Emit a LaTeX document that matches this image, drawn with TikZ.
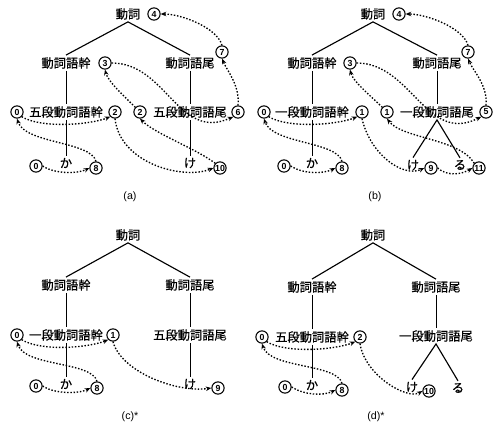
\documentclass[tikz,border=0pt]{standalone}
\usepackage{fontspec}
\newfontfamily\jpfont[FakeBold=0.6]{Noto Sans CJK JP}
\newfontfamily\labfont{Liberation Sans}
\usetikzlibrary{arrows.meta}

\tikzset{
  jp/.style={font=\jpfont\fontsize{9.2}{9.5}\selectfont, inner sep=1.5pt},
  st/.style={circle, draw, line width=0.8pt, minimum size=9.2pt, inner sep=0pt,
    font=\labfont\bfseries\fontsize{6.6}{6.6}\selectfont},
  br/.style={line width=0.85pt},
  vr/.style={line width=0.6pt},
  tr/.style={line width=1pt, dash pattern=on 1.1pt off 1.3pt,
    -{Stealth[length=4.2pt,width=3.4pt]}},
  lbl/.style={font=\labfont\fontsize{8}{9}\selectfont}
}

\begin{document}
\begin{tikzpicture}[x=0.75pt,y=0.75pt,yscale=-1,xscale=1]
\path[use as bounding box] (0,0) rectangle (497,426);

%% (a)
% Text Node
\node[jp] (aV) at (128,14) {動詞};
\node[st] (a4) at (154,14) {4};
\node[jp] (aStem) at (66,63) {動詞語幹};
\node[st] (a3) at (105,63) {3};
\node[jp] (aEnd) at (190,63) {動詞語尾};
\node[st] (a7) at (222,52) {7};
\node[st] (a0t) at (17,112) {0};
\node[jp] (aGStem) at (66,112) {五段動詞語幹};
\node[st] (a2l) at (115,112) {2};
\node[st] (a2r) at (140,112) {2};
\node[jp] (aGEnd) at (190,112) {五段動詞語尾};
\node[st] (a6) at (238,112) {6};
\node[st] (a0b) at (36,166) {0};
\node[jp] (aKa) at (66,163) {か};
\node[st] (a8) at (96,168) {8};
\node[jp] (aKe) at (190,163) {け};
\node[st] (a10) at (220,168) {10};
\node[lbl] (aLab) at (130,197) {(a)};
%Straight Lines
\draw[br] (aStem.north) -- (aV.south) -- (aEnd.north);
\draw[vr] (aStem) -- (aGStem) -- (aKa);
\draw[vr] (aEnd) -- (aGEnd) -- (aKe);
%Curves
\draw[tr] (a0b.east) .. controls +(12,8) and +(-12,6) .. (a8.west);
\draw[tr] (a8.north) .. controls +(-5,-20) and +(8,25) .. (a0t.south);
\draw[tr] (a0t.south east) .. controls +(20,12) and +(-20,8) .. (a2l.south west);
\draw[tr] (a2l.south) .. controls +(5,45) and +(-30,12) .. (a10.west);
\draw[tr] (a10.north west) .. controls +(-20,-15) and +(15,15) .. (a2r.south);
\draw[tr] (a2r.north west) .. controls +(-10,-10) and +(3,12) .. (a3.south);
\draw[tr] (a3.east) .. controls +(55,0) and +(-55,25) .. (a6.south west);
\draw[tr] (a6.north) .. controls +(2,-20) and +(5,12) .. (a7.south);
\draw[tr] (a7.north) .. controls +(-5,-18) and +(20,0) .. (a4.east);

%% (b)
% Text Node
\node[jp] (bV) at (373,14) {動詞};
\node[st] (b4) at (399,14) {4};
\node[jp] (bStem) at (312,63) {動詞語幹};
\node[st] (b3) at (350,63) {3};
\node[jp] (bEnd) at (437,63) {動詞語尾};
\node[st] (b7) at (468,52) {7};
\node[st] (b0t) at (264,112) {0};
\node[jp] (bIStem) at (312,112) {一段動詞語幹};
\node[st] (b1l) at (362,112) {1};
\node[st] (b1r) at (387,112) {1};
\node[jp] (bIEnd) at (437,112) {一段動詞語尾};
\node[st] (b5) at (486,112) {5};
\node[st] (b0b) at (284,166) {0};
\node[jp] (bKa) at (312,163) {か};
\node[st] (b8) at (342,168) {8};
\node[jp] (bKe) at (413,165) {け};
\node[st] (b9) at (431,168) {9};
\node[jp] (bRu) at (460,165) {る};
\node[st] (b11) at (479,168) {11};
\node[lbl] (bLab) at (375,197) {(b)};
%Straight Lines
\draw[br] (bStem.north) -- (bV.south) -- (bEnd.north);
\draw[vr] (bStem) -- (bIStem) -- (bKa);
\draw[vr] (bEnd) -- (bIEnd);
\draw[br] (bKe.north) -- (bIEnd.south) -- (bRu.north);
%Curves
\draw[tr] (b0b.east) .. controls +(12,8) and +(-12,6) .. (b8.west);
\draw[tr] (b8.north) .. controls +(-5,-20) and +(8,25) .. (b0t.south);
\draw[tr] (b0t.south east) .. controls +(20,12) and +(-20,8) .. (b1l.south west);
\draw[tr] (b1l.south) .. controls +(8,35) and +(-22,10) .. (b9.west);
\draw[tr] (b9.east) .. controls +(10,9) and +(-10,6) .. (b11.west);
\draw[tr] (b11.north west) .. controls +(-15,-25) and +(15,20) .. (b1r.south);
\draw[tr] (b1r.north west) .. controls +(-10,-10) and +(3,12) .. (b3.south);
\draw[tr] (b3.east) .. controls +(55,0) and +(-55,28) .. (b5.south west);
\draw[tr] (b5.north) .. controls +(2,-20) and +(5,12) .. (b7.south);
\draw[tr] (b7.north) .. controls +(-5,-18) and +(20,0) .. (b4.east);

%% (c)
% Text Node
\node[jp] (cV) at (128,235) {動詞};
\node[jp] (cStem) at (66,285) {動詞語幹};
\node[jp] (cEnd) at (190,285) {動詞語尾};
\node[st] (c0t) at (17,335) {0};
\node[jp] (cIStem) at (66,335) {一段動詞語幹};
\node[st] (c1) at (113,335) {1};
\node[jp] (cGEnd) at (190,335) {五段動詞語尾};
\node[st] (c0b) at (36,386) {0};
\node[jp] (cKa) at (66,384) {か};
\node[st] (c8) at (97,388) {8};
\node[jp] (cKe) at (190,384) {け};
\node[st] (c9) at (218,388) {9};
\node[lbl] (cLab) at (130,417) {(c)*};
%Straight Lines
\draw[br] (cStem.north) -- (cV.south) -- (cEnd.north);
\draw[vr] (cStem) -- (cIStem) -- (cKa);
\draw[vr] (cEnd) -- (cGEnd) -- (cKe);
%Curves
\draw[tr] (c0b.east) .. controls +(12,8) and +(-12,6) .. (c8.west);
\draw[tr] (c8.north) .. controls +(-5,-20) and +(8,25) .. (c0t.south);
\draw[tr] (c0t.south east) .. controls +(20,12) and +(-20,8) .. (c1.south west);
\draw[tr] (c1.south) .. controls +(8,30) and +(-35,5) .. (c9.west);

%% (d)
% Text Node
\node[jp] (dV) at (373,235) {動詞};
\node[jp] (dStem) at (312,287) {動詞語幹};
\node[jp] (dEnd) at (436,287) {動詞語尾};
\node[st] (d0t) at (262,337) {0};
\node[jp] (dGStem) at (312,337) {五段動詞語幹};
\node[st] (d2) at (360,337) {2};
\node[jp] (dIEnd) at (436,336) {一段動詞語尾};
\node[st] (d0b) at (285,387) {0};
\node[jp] (dKa) at (312,385) {か};
\node[st] (d8) at (342,390) {8};
\node[jp] (dKe) at (412,387) {け};
\node[st] (d10) at (429,391) {10};
\node[jp] (dRu) at (458,388) {る};
\node[lbl] (dLab) at (376,417) {(d)*};
%Straight Lines
\draw[br] (dStem.north) -- (dV.south) -- (dEnd.north);
\draw[vr] (dStem) -- (dGStem) -- (dKa);
\draw[vr] (dEnd) -- (dIEnd);
\draw[br] (dKe.north) -- (dIEnd.south) -- (dRu.north);
%Curves
\draw[tr] (d0b.east) .. controls +(12,8) and +(-12,6) .. (d8.west);
\draw[tr] (d8.north) .. controls +(-5,-20) and +(8,25) .. (d0t.south);
\draw[tr] (d0t.south east) .. controls +(20,12) and +(-20,8) .. (d2.south west);
\draw[tr] (d2.south) .. controls +(5,32) and +(-15,9) .. (d10.west);

\end{tikzpicture}
\end{document}
